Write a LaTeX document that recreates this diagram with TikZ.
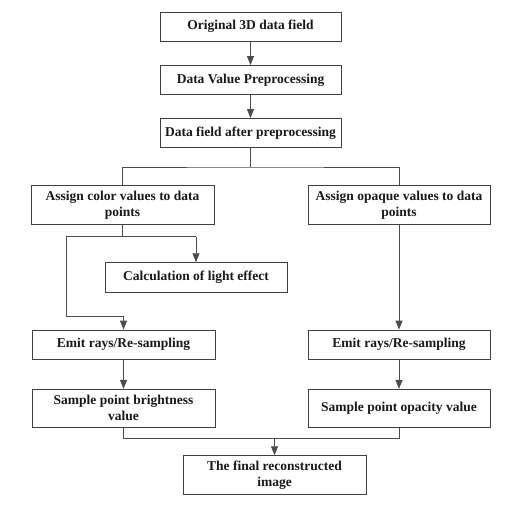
\documentclass[tikz,border=0pt]{standalone}
\usepackage{fontspec}
\setmainfont{Liberation Serif}
\usetikzlibrary{arrows.meta}
\begin{document}
\begin{tikzpicture}[x=1pt,y=-1pt,
  box/.style={draw=black!75,line width=0.9pt,inner sep=0pt,align=center,
    font=\fontsize{13.5}{16}\selectfont\bfseries,text=black!90},
  conn/.style={draw=black!70,line width=0.9pt},
  arr/.style={conn,-{Triangle[length=9pt,width=7pt]}}]
\useasboundingbox (0,0) rectangle (524,506);
\node[box,minimum width=181pt,minimum height=29pt] (b1) at (250.5,26.5) {Original 3D data field};
\node[box,minimum width=181pt,minimum height=29pt] (b2) at (250.5,80) {Data Value Preprocessing};
\node[box,minimum width=181pt,minimum height=29pt] (b3) at (250.5,133) {Data field after preprocessing};
\node[box,minimum width=183pt,minimum height=39.5pt] (al) at (122.5,205) {Assign color values to data\\points};
\node[box,minimum width=182pt,minimum height=39.5pt] (ar) at (399,205) {Assign opaque values to data\\points};
\node[box,minimum width=182pt,minimum height=29.6pt] (light) at (196,277.5) {Calculation of light effect};
\node[box,minimum width=183pt,minimum height=29.3pt] (el) at (123.5,344.7) {Emit rays/Re-sampling};
\node[box,minimum width=182pt,minimum height=29.3pt] (er) at (399,344.7) {Emit rays/Re-sampling};
\node[box,minimum width=183pt,minimum height=38pt] (sl) at (123.5,408.3) {Sample point brightness\\value};
\node[box,minimum width=182pt,minimum height=38pt] (sr) at (399,408.3) {Sample point opacity value};
\node[box,minimum width=183pt,minimum height=38.6pt] (fin) at (274.5,475) {The final reconstructed\\image};
\coordinate (split) at (250.5,167);
\coordinate (lb) at (122.5,236.7);
\coordinate (lbl) at (66,236.7);
\coordinate (lbr) at (196,236.7);
\coordinate (lbd) at (66,316);
\coordinate (lbe) at (123.5,316);
\coordinate (merge) at (274.5,438.3);
\draw[arr] (b1) -- (b2);
\draw[arr] (b2) -- (b3);
\draw[conn] (b3.south) -- (split);
\draw[conn] (al.north) |- (split) -| (ar.north);
\draw[conn] (al.south) -- (lb);
\draw[conn] (lbl) -- (lbr);
\draw[arr] (lbr) -- (light.north);
\draw[conn] (lbl) -- (lbd) -- (lbe);
\draw[arr] (lbe) -- (el.north);
\draw[arr] (ar.south) -- (er.north);
\draw[arr] (el) -- (sl);
\draw[arr] (er) -- (sr);
\draw[conn] (sl.south) |- (merge) -| (sr.south);
\draw[arr] (merge) -- (fin.north);
\end{tikzpicture}
\end{document}
